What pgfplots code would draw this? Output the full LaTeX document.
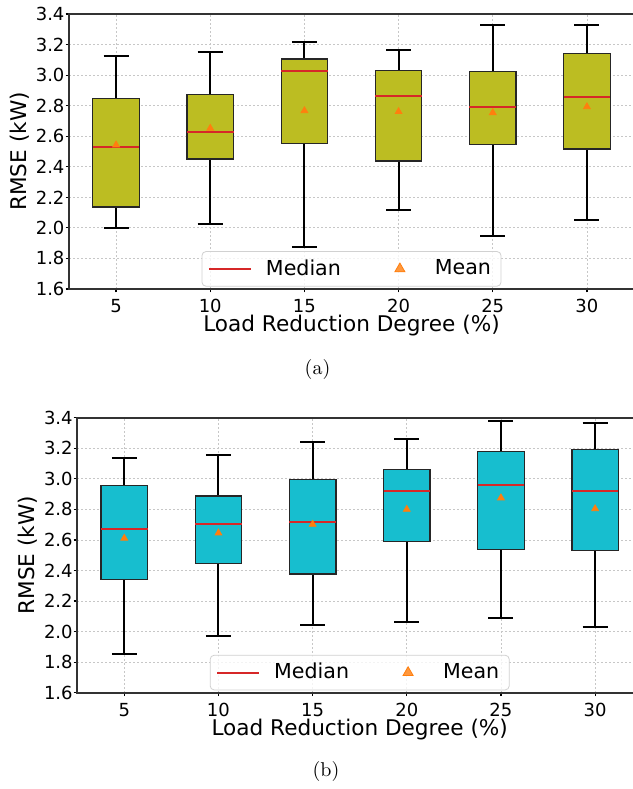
\documentclass[border=0pt]{standalone}
\usepackage{fontspec}
\newfontfamily\dv{DejaVu Sans}
\usepackage{pgfplots}
\pgfplotsset{compat=1.18}

\definecolor{tabolive}{HTML}{BCBD22}
\definecolor{tabcyan}{HTML}{17BECF}
\definecolor{tabred}{HTML}{D62728}
\definecolor{taborange}{HTML}{FF7F0E}

% one box: fill, position, low whisker, Q1, median, Q3, high whisker
\newcommand{\bx}[7]{%
  \pgfmathsetmacro\xa{#2-1.235}\pgfmathsetmacro\xb{#2+1.235}%
  \pgfmathsetmacro\ca{#2-0.665}\pgfmathsetmacro\cb{#2+0.665}%
  \addplot[black, line width=1pt] coordinates {(#2,#3) (#2,#4)};
  \addplot[black, line width=1pt] coordinates {(#2,#6) (#2,#7)};
  \addplot[black, line width=1pt] coordinates {(\ca,#3) (\cb,#3)};
  \addplot[black, line width=1pt] coordinates {(\ca,#7) (\cb,#7)};
  \addplot[fill=#1, draw=black!85, line width=0.65pt]
    coordinates {(\xa,#4) (\xb,#4) (\xb,#6) (\xa,#6)} -- cycle;
  \addplot[tabred, line width=1pt] coordinates {(\xa,#5) (\xb,#5)};
}

\pgfplotsset{
  rmse/.style={
    scale only axis, width=282.5pt, height=137.5pt,
    xmin=2.5, xmax=32.5, ymin=1.6, ymax=3.4,
    xtick={5,10,15,20,25,30},
    ytick={1.6,1.8,2.0,2.2,2.4,2.6,2.8,3.0,3.2,3.4},
    yticklabel style={/pgf/number format/fixed,
      /pgf/number format/fixed zerofill, /pgf/number format/precision=1,
      xshift=3pt},
    /pgf/number format/assume math mode=true,
    tick label style={font=\dv\fontsize{9}{10}\selectfont},
    every axis x label/.style={at={(axis description cs:0.5,-0.1553)}, anchor=base,
      font=\dv\fontsize{10.8}{12}\selectfont},
    every axis y label/.style={at={(axis description cs:-0.0867,0.5)}, rotate=90,
      anchor=center, font=\dv\fontsize{10.8}{12}\selectfont},
    xlabel={Load Reduction Degree (\%)}, ylabel={RMSE (kW)},
    grid=major,
    major grid style={black!22, dash pattern=on 1pt off 1pt, line width=0.4pt},
    axis line style={black!80, line width=0.8pt},
    tick align=outside, tick pos=left, major tick length=1.75pt,
    tick style={black, line width=0.6pt},
    legend columns=2,
    legend style={at={(0.5,0)}, anchor=south, yshift=1.2pt,
      draw=black!18, rounded corners=2pt, fill=white, fill opacity=0.8,
      text opacity=1, font=\dv\fontsize{10.3}{12}\selectfont,
      /tikz/every even column/.append style={column sep=17pt},
      /tikz/every odd column/.append style={column sep=5pt}},
  },
  medimg/.style={legend image code/.code={%
    \draw[tabred, line width=1pt] (0pt,0pt) -- (21pt,0pt);}},
  meanimg/.style={legend image code/.code={%
    \path[draw=none] (0pt,0pt) -- (21pt,0pt);
    \path[draw=none] plot[mark=triangle*, mark size=2.9pt,
      mark options={draw=taborange, fill=taborange}] coordinates {(10.5pt,0pt)};}},
}

\begin{document}
\begin{tikzpicture}
\useasboundingbox (0,0) rectangle (316.5pt,394.5pt);
\clip (0,0) rectangle (316.5pt,394.5pt);

% (a)
\begin{axis}[rmse, at={(34.5pt,250pt)}, anchor=south west]
\addlegendimage{medimg}\addlegendentry{Median}
\addlegendimage{meanimg}\addlegendentry{Mean}
\bx{tabolive}{5}{2.000}{2.137}{2.532}{2.846}{3.125}
\bx{tabolive}{10}{2.026}{2.451}{2.630}{2.874}{3.153}
\bx{tabolive}{15}{1.875}{2.554}{3.030}{3.105}{3.219}
\bx{tabolive}{20}{2.115}{2.438}{2.863}{3.031}{3.166}
\bx{tabolive}{25}{1.949}{2.547}{2.793}{3.023}{3.328}
\bx{tabolive}{30}{2.050}{2.517}{2.859}{3.143}{3.328}
\addplot[only marks, mark=triangle*, mark size=1.95pt,
  color=taborange, fill=taborange] coordinates {
  (5,2.543) (10,2.652) (15,2.767) (20,2.761) (25,2.754) (30,2.793)};
\end{axis}
\node[anchor=base, font=\fontsize{10}{12}\selectfont] at (158.75pt,207pt) {(a)};

% (b)
\begin{axis}[rmse, at={(38.6pt,48.15pt)}, anchor=south west]
\addlegendimage{medimg}\addlegendentry{Median}
\addlegendimage{meanimg}\addlegendentry{Mean}
\bx{tabcyan}{5}{1.852}{2.342}{2.674}{2.958}{3.136}
\bx{tabcyan}{10}{1.971}{2.445}{2.702}{2.888}{3.156}
\bx{tabcyan}{15}{2.041}{2.377}{2.719}{2.994}{3.241}
\bx{tabcyan}{20}{2.065}{2.589}{2.922}{3.062}{3.261}
\bx{tabcyan}{25}{2.087}{2.536}{2.960}{3.180}{3.378}
\bx{tabcyan}{30}{2.031}{2.530}{2.918}{3.193}{3.365}
\addplot[only marks, mark=triangle*, mark size=1.95pt,
  color=taborange, fill=taborange] coordinates {
  (5,2.611) (10,2.645) (15,2.702) (20,2.800) (25,2.875) (30,2.804)};
\end{axis}
\node[anchor=base, font=\fontsize{10}{12}\selectfont] at (163pt,6.15pt) {(b)};
\end{tikzpicture}
\end{document}
